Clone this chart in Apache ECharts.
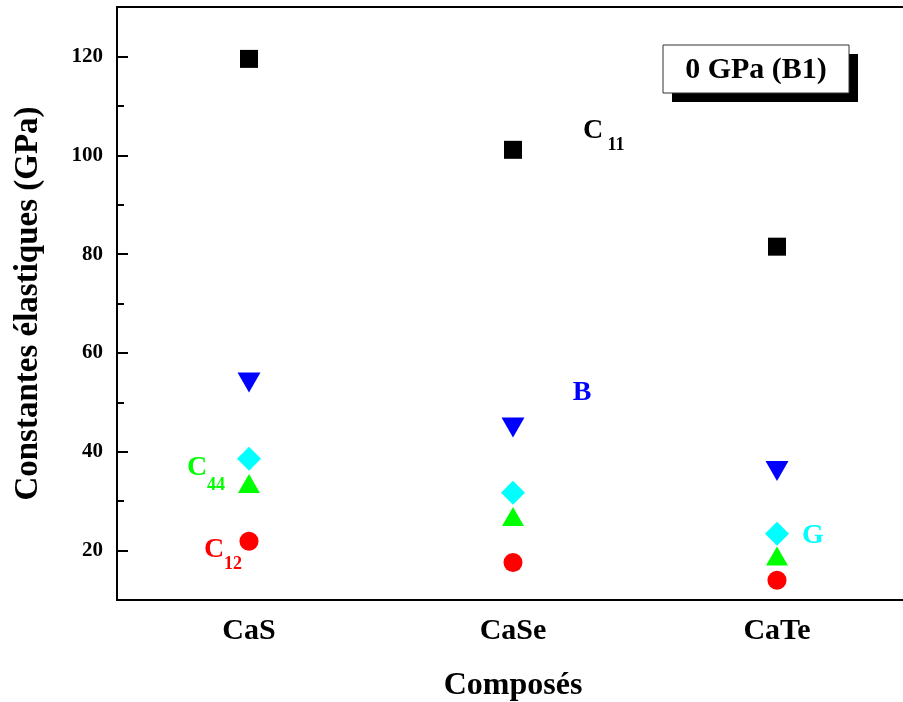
<!DOCTYPE html>
<html>
<head>
<meta charset="utf-8">
<script src="https://cdn.jsdelivr.net/npm/echarts@6/dist/echarts.min.js"></script>
<style>
html, body { margin: 0; padding: 0; background: #fff; overflow: hidden; width: 903px; height: 702px; }
/* the plot frame runs slightly past the right edge of the page */
#chart { width: 909px; height: 702px; }
</style>
</head>
<body>
<div id="chart"></div>
<script>
// Elastic constants of the calcium chalcogenides at 0 GPa (B1 phase)
const compounds = ['CaS', 'CaSe', 'CaTe'];
const c11 = [119.5, 101.1, 81.5];
const bulk = [54.0, 44.9, 36.1];
const shear = [38.6, 31.7, 23.4];
const c44 = [33.6, 26.9, 18.9];
const c12 = [21.9, 17.6, 14.0];
const majorTicks = [20, 40, 60, 80, 100, 120];
const minorTicks = [30, 50, 70, 90, 110];
const yMin = 10, yMax = 130;

const FONT = '"Liberation Serif", "Times New Roman", serif';

function scatter(name, values, symbol, size, color, rotate) {
  return {
    name: name,
    type: 'scatter',
    xAxisIndex: 0,
    yAxisIndex: 0,
    symbol: symbol,
    symbolSize: size,
    symbolRotate: rotate || 0,
    itemStyle: { color: color, opacity: 1 },
    emphasis: { disabled: true },
    data: values.map((v, i) => [compounds[i], v])
  };
}

function label(text, sub, x, y, subX, subY, color) {
  const els = [{
    type: 'text', x: x, y: y,
    style: { text: text, fill: color, font: 'bold 28px ' + FONT, textAlign: 'center', textVerticalAlign: 'middle' }
  }];
  if (sub) {
    els.push({
      type: 'text', x: subX, y: subY,
      style: { text: sub, fill: color, font: 'bold 18px ' + FONT, textAlign: 'center', textVerticalAlign: 'middle' }
    });
  }
  return els;
}

const chart = echarts.init(document.getElementById('chart'), null, { renderer: 'canvas' });

const axisTextStyle = { color: '#000', fontFamily: FONT, fontWeight: 'bold' };

chart.setOption({
  animation: false,
  backgroundColor: '#fff',
  grid: {
    left: 117, top: 7, right: 0, bottom: 102,
    outerBoundsMode: 'none',
    containLabel: false,
    show: true, borderColor: '#000', borderWidth: 2, backgroundColor: 'transparent'
  },
  xAxis: [{
    type: 'category',
    data: compounds,
    position: 'bottom',
    name: 'Composés',
    nameLocation: 'middle',
    nameGap: 70,
    nameTextStyle: Object.assign({ fontSize: 32 }, axisTextStyle),
    axisLine: { lineStyle: { color: '#000', width: 2 } },
    axisTick: { alignWithLabel: true, inside: true, length: 12, lineStyle: { color: '#000', width: 2 } },
    axisLabel: Object.assign({ fontSize: 30, margin: 16 }, axisTextStyle),
    splitLine: { show: false }
  }, {
    type: 'category',
    data: compounds,
    position: 'bottom',
    axisLine: { show: false },
    axisTick: { alignWithLabel: false, inside: true, length: 7, lineStyle: { color: '#000', width: 2 } },
    axisLabel: { show: false },
    splitLine: { show: false }
  }],
  yAxis: [{
    type: 'value',
    min: yMin, max: yMax,
    name: 'Constantes élastiques (GPa)',
    nameLocation: 'middle',
    nameGap: 72,
    nameTextStyle: Object.assign({ fontSize: 33 }, axisTextStyle),
    axisLine: { show: true, lineStyle: { color: '#000', width: 2 } },
    axisTick: { show: true, inside: true, length: 11, customValues: majorTicks, lineStyle: { color: '#000', width: 2 } },
    axisLabel: Object.assign({ fontSize: 21, margin: 14, customValues: majorTicks }, axisTextStyle),
    splitLine: { show: false }
  }, {
    type: 'value',
    min: yMin, max: yMax,
    position: 'left',
    axisLine: { show: false },
    axisTick: { show: true, inside: true, length: 7, customValues: minorTicks, lineStyle: { color: '#000', width: 2 } },
    axisLabel: { show: false, customValues: minorTicks },
    splitLine: { show: false }
  }],
  series: [
    scatter('C11', c11, 'rect', [18, 18], '#000000'),
    scatter('B', bulk, 'triangle', [23, 20], '#0000ff', 180),
    scatter('G', shear, 'diamond', [24, 24], '#00ffff'),
    scatter('C44', c44, 'triangle', [22, 19], '#00ff00'),
    scatter('C12', c12, 'circle', 19, '#ff0000')
  ],
  graphic: [
    // pressure / phase box with drop shadow
    { type: 'rect', shape: { x: 672, y: 54, width: 186, height: 48 }, style: { fill: '#000' } },
    { type: 'rect', shape: { x: 663, y: 45, width: 186, height: 48 }, style: { fill: '#fff', stroke: '#333', lineWidth: 1 } },
    { type: 'text', x: 756, y: 70, style: { text: '0 GPa (B1)', fill: '#000', font: 'bold 30px ' + FONT, textAlign: 'center', textVerticalAlign: 'middle' } }
  ]
    .concat(label('C', '11', 593, 131, 616, 145, '#000'))
    .concat(label('B', null, 582, 393, 0, 0, '#0000ff'))
    .concat(label('C', '44', 197, 468, 216, 485, '#00ff00'))
    .concat(label('C', '12', 214, 550, 233, 564, '#ff0000'))
    .concat(label('G', null, 813, 536, 0, 0, '#00ffff'))
});
</script>
</body>
</html>
